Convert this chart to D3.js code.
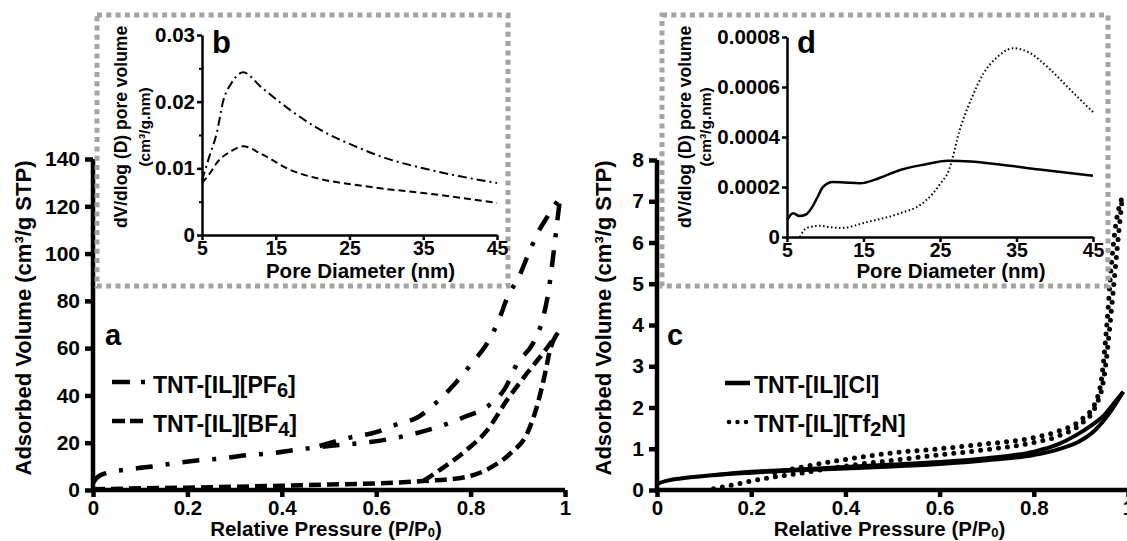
<!DOCTYPE html>
<html><head><meta charset="utf-8">
<script src="https://cdn.jsdelivr.net/npm/d3@7"></script>
<style>
body{margin:0;background:#fff}
svg{display:block}
text{font-family:"Liberation Sans",Arial,Helvetica,sans-serif;font-weight:bold;fill:#000}
</style>
</head><body>
<svg id="chart" width="1127" height="541"></svg>
<script>
// ---------- tick labels ----------
const pressureTicks = [0, 0.2, 0.4, 0.6, 0.8, 1];
const volumeTicksA = [0, 20, 40, 60, 80, 100, 120, 140];
const volumeTicksC = [0, 1, 2, 3, 4, 5, 6, 7, 8];
const poreTicks = [5, 15, 25, 35, 45];
const psdTicksB = [0, 0.01, 0.02, 0.03];
const psdMinorB = [0.005, 0.015, 0.025];
const psdTicksD = [0, 0.0002, 0.0004, 0.0006, 0.0008];

// ---------- panel a : isotherms [P/P0, cm3/g STP] ----------
const pf6Adsorption = [[0,3],[0.01,5.5],[0.03,7.3],[0.065,8.5],[0.12,9.8],[0.17,11.2],[0.22,12.5],[0.27,13.3],[0.33,14.8],[0.38,15.6],[0.43,17],[0.5,18.6],[0.587,20.3],[0.64,22],[0.73,26.6],[0.788,31],[0.84,36],[0.873,43],[0.9,54],[0.932,62],[0.955,74],[0.965,84],[0.972,94],[0.978,104],[0.985,116],[0.99,124]];
const pf6Desorption = [[0.48,18.6],[0.54,22],[0.6,24.5],[0.64,27.5],[0.69,31],[0.733,38],[0.77,45.7],[0.803,53.7],[0.835,62],[0.858,71],[0.879,82],[0.902,90],[0.925,101],[0.943,109],[0.964,116],[0.99,124]];
const bf4Adsorption = [[0,0.3],[0.1,0.7],[0.2,1.0],[0.3,1.4],[0.4,1.8],[0.5,2.3],[0.6,2.8],[0.7,3.8],[0.79,5.5],[0.845,9.8],[0.885,15.6],[0.92,24],[0.94,35],[0.958,49.5],[0.968,59],[0.985,66.5]];
const bf4Desorption = [[0.7,3.8],[0.735,8.5],[0.792,17],[0.834,25],[0.877,38],[0.92,49.5],[0.954,58],[0.985,66.5]];

// ---------- panel b : pore size distribution [nm, cm3/g.nm] ----------
const pf6Pore = [[5,0.0082],[6,0.0118],[7,0.0153],[7.9,0.0202],[9,0.0228],[10.6,0.0244],[13,0.0222],[16.9,0.0188],[21,0.0158],[26,0.0132],[30,0.0115],[35,0.0100],[40,0.0088],[45,0.0078]];
const bf4Pore = [[5,0.0078],[6.1,0.0093],[7,0.0108],[9,0.0126],[10.6,0.0133],[13,0.0122],[16.9,0.0098],[21,0.0084],[26,0.0075],[30,0.0069],[35,0.0063],[40,0.0056],[45,0.0048]];

// ---------- panel c : isotherms ----------
const clAdsorption = [[0,0.15],[0.02,0.22],[0.05,0.28],[0.1,0.34],[0.2,0.42],[0.3,0.48],[0.4,0.52],[0.5,0.57],[0.6,0.63],[0.7,0.72],[0.8,0.85],[0.85,0.98],[0.9,1.2],[0.93,1.45],[0.96,1.85],[0.98,2.2],[0.99,2.38]];
const clDesorption = [[0.12,0.36],[0.2,0.44],[0.3,0.5],[0.4,0.56],[0.5,0.62],[0.6,0.68],[0.7,0.77],[0.8,0.93],[0.85,1.1],[0.89,1.33],[0.92,1.55],[0.95,1.82],[0.97,2.1],[0.99,2.38]];
const tf2nAdsorption = [[0.12,0.03],[0.16,0.12],[0.2,0.22],[0.3,0.4],[0.4,0.58],[0.5,0.72],[0.6,0.85],[0.7,0.98],[0.8,1.15],[0.85,1.3],[0.9,1.6],[0.93,2.0],[0.95,2.8],[0.96,3.8],[0.97,5.0],[0.98,6.2],[0.988,7.1]];
const tf2nDesorption = [[0.25,0.42],[0.3,0.54],[0.4,0.74],[0.5,0.9],[0.6,1.0],[0.7,1.12],[0.8,1.27],[0.85,1.42],[0.9,1.7],[0.93,2.1],[0.945,2.8],[0.955,4.0],[0.965,5.5],[0.975,6.5],[0.988,7.1]];

// ---------- panel d : pore size distribution ----------
const clPore = [[5,0.000068],[5.8,0.000095],[6.6,0.000084],[7.5,0.00009],[8.2,0.000115],[9,0.00016],[9.7,0.0002],[11,0.00022],[12.5,0.000218],[14.5,0.000215],[17,0.000235],[19.8,0.000268],[23,0.00029],[26,0.000305],[29,0.000302],[32.8,0.00029],[38,0.00027],[45,0.000245]];
const tf2nPore = [[6.7,0],[7.3,0.00003],[8,0.00004],[9.3,0.000045],[10.5,0.00004],[12,0.000036],[15.5,0.00006],[19.8,0.000095],[22.5,0.00013],[24.1,0.000175],[25.2,0.00022],[26,0.000255],[27.7,0.00044],[29.2,0.00056],[30.7,0.000655],[32.5,0.00072],[34.6,0.000755],[36.5,0.00074],[39.4,0.00067],[42,0.00059],[45,0.0005]];

const svg = d3.select("#chart");
const fmt = d => String(d);

function drawLine(g, data, x, y, style) {
  const gen = d3.line().x(d => x(d[0])).y(d => y(d[1])).curve(d3.curveMonotoneX);
  g.append("path").datum(data).attr("d", gen)
    .attr("fill", "none").attr("stroke", "#000")
    .attr("stroke-width", style.w)
    .attr("stroke-dasharray", style.dash || null)
    .attr("stroke-linecap", style.cap || "butt")
    .attr("stroke-linejoin", "round");
}

function styleAxis(g, w, fs) {
  g.select(".domain").attr("stroke", "#000").attr("stroke-width", w);
  g.selectAll(".tick line").attr("stroke", "#000").attr("stroke-width", w);
  g.selectAll(".tick text").style("font-size", fs + "px").attr("fill", "#000");
}

// main panel
function mainPanel(x0, x1, yTop, yMax, yTicks) {
  const x = d3.scaleLinear().domain([0, 1]).range([x0, x1]);
  const y = d3.scaleLinear().domain([0, yMax]).range([490, yTop]);
  const gx = svg.append("g").attr("transform", "translate(0,490)")
    .call(d3.axisBottom(x).tickValues(pressureTicks).tickFormat(fmt).tickSize(7).tickSizeOuter(0).tickPadding(3));
  styleAxis(gx, 4.5, 20.5);
  gx.select(".domain").attr("d", `M${x0 - 2},0H${x1}`);
  const gy = svg.append("g").attr("transform", `translate(${x0},0)`)
    .call(d3.axisLeft(y).tickValues(yTicks).tickFormat(fmt).tickSize(8).tickSizeOuter(0).tickPadding(5));
  styleAxis(gy, 4.5, 21);
  gy.select(".domain").attr("d", `M0,${492}V${yTop}`);
  const t = svg.append("text").attr("x", (x0 + x1) / 2 - 3).attr("y", 536)
    .attr("text-anchor", "middle").style("font-size", "20.5px");
  t.append("tspan").text("Relative Pressure (P/P");
  t.append("tspan").text("0").style("font-size", "13px").attr("dy", 1);
  t.append("tspan").text(")").attr("dy", -1);
  return {x, y};
}

// inset panel
function insetPanel(box, x0, x1, y0, y1, yMax, yTicks, minor, labelX1, labelX2) {
  svg.append("rect").attr("x", box[0]).attr("y", box[1]).attr("width", box[2] - box[0]).attr("height", box[3] - box[1])
    .attr("fill", "#fff").attr("stroke", "#a3a3a3").attr("stroke-width", 5).attr("stroke-dasharray", "5,4.3");
  const x = d3.scaleLinear().domain([5, 45]).range([x0, x1]);
  const y = d3.scaleLinear().domain([0, yMax]).range([y0, y1]);
  const gx = svg.append("g").attr("transform", `translate(0,${y0})`)
    .call(d3.axisBottom(x).tickValues(poreTicks).tickFormat(fmt).tickSize(5).tickSizeOuter(0).tickPadding(1));
  styleAxis(gx, 2.5, 19.5);
  const gy = svg.append("g").attr("transform", `translate(${x0},0)`)
    .call(d3.axisLeft(y).tickValues(yTicks).tickFormat(fmt).tickSize(5).tickSizeOuter(0).tickPadding(2));
  styleAxis(gy, 2.5, 20.5);
  if (minor) {
    svg.append("g").attr("transform", `translate(${x0},0)`)
      .call(d3.axisLeft(y).tickValues(minor).tickFormat("").tickSize(3).tickSizeOuter(0))
      .call(g => { g.select(".domain").remove(); g.selectAll("line").attr("stroke", "#000").attr("stroke-width", 2); });
  }
  svg.append("text").attr("x", (x0 + x1) / 2 + 11).attr("y", 278).attr("text-anchor", "middle")
    .style("font-size", "20.5px").text("Pore Diameter (nm)");
  const cy = 127;
  svg.append("text").attr("transform", `translate(${labelX1},${cy}) rotate(-90)`).attr("text-anchor", "middle")
    .style("font-size", "17.5px").text("dV/dlog (D) pore volume");
  svg.append("text").attr("transform", `translate(${labelX2},${cy}) rotate(-90)`).attr("text-anchor", "middle")
    .style("font-size", "15.5px").text("(cm³/g.nm)");
  return {x, y};
}

function legendText(x, y, main, sub, tail) {
  const t = svg.append("text").attr("x", x).attr("y", y).style("font-size", "23px");
  t.append("tspan").text(main);
  if (sub) { t.append("tspan").text(sub).style("font-size", "20px").attr("dy", 4); t.append("tspan").text(tail).attr("dy", -4); }
}

// ================= Panel a =================
const A = mainPanel(93, 565, 159, 140, volumeTicksA);
svg.append("text").attr("transform", "translate(31,318) rotate(-90)").attr("text-anchor", "middle")
  .style("font-size", "22px").text("Adsorbed Volume (cm³/g STP)");
const gA = svg.append("g");
const pf6Style = {w: 4.5, dash: "17,13,4,13"};
const bf4Style = {w: 4.5, dash: "12,6"};
drawLine(gA, pf6Adsorption, A.x, A.y, pf6Style);
drawLine(gA, pf6Desorption, A.x, A.y, pf6Style);
drawLine(gA, bf4Adsorption, A.x, A.y, bf4Style);
drawLine(gA, bf4Desorption, A.x, A.y, bf4Style);
svg.append("text").attr("x", 105).attr("y", 345).style("font-size", "29px").text("a");
svg.append("line").attr("x1", 112).attr("x2", 148).attr("y1", 382).attr("y2", 382)
  .attr("stroke", "#000").attr("stroke-width", 4.5).attr("stroke-dasharray", "18,11,4,20");
svg.append("line").attr("x1", 112).attr("x2", 144).attr("y1", 421).attr("y2", 421)
  .attr("stroke", "#000").attr("stroke-width", 4.5).attr("stroke-dasharray", "13,5");
legendText(153, 393, "TNT-[IL][PF", "6", "]");
legendText(153, 432, "TNT-[IL][BF", "4", "]");

// ================= Panel c =================
const C = mainPanel(657, 1128, 160, 8, volumeTicksC);
svg.append("text").attr("transform", "translate(611,318) rotate(-90)").attr("text-anchor", "middle")
  .style("font-size", "22px").text("Adsorbed Volume (cm³/g STP)");
const gC = svg.append("g");
const clStyle = {w: 4};
const tfStyle = {w: 5, dash: "0,9", cap: "round"};
drawLine(gC, clAdsorption, C.x, C.y, clStyle);
drawLine(gC, clDesorption, C.x, C.y, clStyle);
drawLine(gC, tf2nAdsorption, C.x, C.y, tfStyle);
drawLine(gC, tf2nDesorption, C.x, C.y, tfStyle);
svg.append("text").attr("x", 667).attr("y", 345).style("font-size", "29px").text("c");
svg.append("line").attr("x1", 725).attr("x2", 750).attr("y1", 383).attr("y2", 383)
  .attr("stroke", "#000").attr("stroke-width", 4.5);
svg.append("line").attr("x1", 729).attr("x2", 747).attr("y1", 422).attr("y2", 422)
  .attr("stroke", "#000").attr("stroke-width", 4.5).attr("stroke-dasharray", "0,8.5").attr("stroke-linecap", "round");
legendText(754, 393, "TNT-[IL][Cl]");
legendText(754, 432, "TNT-[IL][Tf", "2", "N]");

// ================= Inset b =================
const B = insetPanel([97, 15, 508, 286], 202, 497, 235, 35, 0.03, psdTicksB, psdMinorB, 127, 150);
const gB = svg.append("g");
drawLine(gB, pf6Pore, B.x, B.y, {w: 2, dash: "9,4,2,4"});
drawLine(gB, bf4Pore, B.x, B.y, {w: 2, dash: "7,4"});
svg.append("text").attr("x", 212).attr("y", 53).style("font-size", "31px").text("b");

// ================= Inset d =================
const D = insetPanel([662, 15, 1108, 286], 787, 1093, 237, 37, 0.0008, psdTicksD, null, 691, 711);
const gD = svg.append("g");
drawLine(gD, clPore, D.x, D.y, {w: 2.5});
drawLine(gD, tf2nPore, D.x, D.y, {w: 2, dash: "1.5,2.5"});
svg.append("text").attr("x", 797).attr("y", 53).style("font-size", "31px").text("d");
</script>
</body></html>
